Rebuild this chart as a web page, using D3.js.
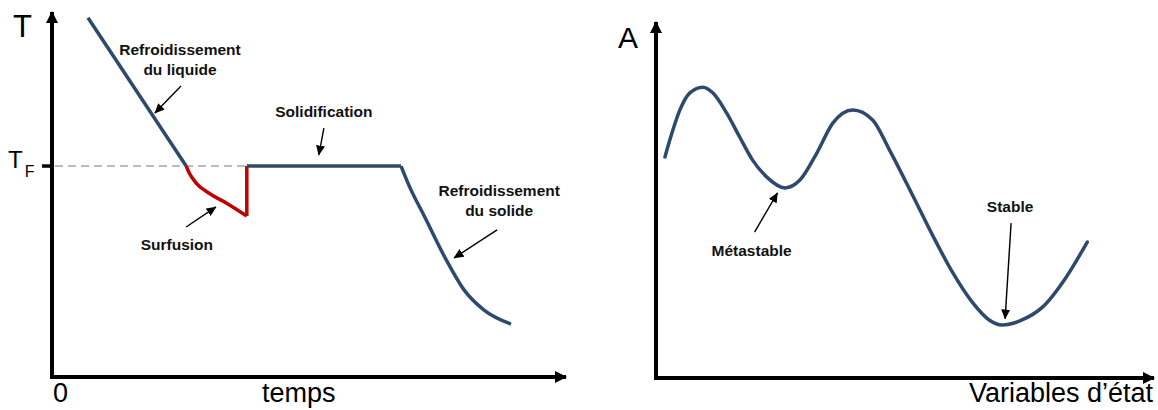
<!DOCTYPE html>
<html>
<head>
<meta charset="utf-8">
<script src="https://cdn.jsdelivr.net/npm/d3@7"></script>
<style>
  html, body { margin: 0; padding: 0; background: #fff; }
  svg { display: block; }
  text { font-family: "Liberation Sans", Arial, sans-serif; }
</style>
</head>
<body>
<svg id="chart" width="1158" height="410"></svg>
<script>
// ---------- DATA (left: cooling curve, time vs temperature) ----------
const TF = 57.8;
const liquidCooling = [[7.0, 98.4], [26.1, 57.8]];
const surfusion = [[26.1, 57.8], [26.7, 55.9], [28.0, 53.2], [30.5, 50.4], [33.9, 47.7], [37.9, 44.1]];
const recalescence = [[37.9, 44.1], [37.9, 57.8]];
const solidification = [[37.9, 57.8], [67.9, 57.8]];
const solidCooling = [[67.9, 57.8], [69.8, 51.4], [72.4, 44.2], [76.7, 32.1], [80.2, 23.8], [84.0, 18.4], [89.3, 14.5]];
const leftAnnotations = [
  { lines: ["Refroidissement", "du liquide"], tx: 24.9, ty: 88.1, from: [25.1, 79.7], to: [20.0, 72.3] },
  { lines: ["Solidification"], tx: 52.9, ty: 71.1, from: [52.9, 68.2], to: [51.9, 60.8] },
  { lines: ["Surfusion"], tx: 24.3, ty: 34.7, from: [26.1, 41.1], to: [31.9, 46.6] },
  { lines: ["Refroidissement", "du solide"], tx: 87.0, ty: 49.5, from: [86.6, 40.3], to: [78.2, 32.6] }
];
const leftLabels = { y: "T", yTick: "T", yTickSub: "F", origin: "0", x: "temps" };

// ---------- DATA (right: energy landscape) ----------
const landscape = [
  [1.8, 62.1], [3.2, 68.8], [4.8, 75.3], [6.8, 80.1], [9.4, 81.7], [11.4, 80.1],
  [14.2, 74.4], [16.8, 67.7], [19.4, 61.2], [22.2, 56.5], [25.9, 53.4], [28.9, 55.6],
  [32.3, 63.2], [35.5, 71.6], [39.5, 75.3], [43.5, 72.5], [46.9, 64.0],
  [51.5, 51.4], [55.5, 40.2], [59.5, 29.8], [63.5, 21.3], [66.9, 16.3], [69.5, 14.9],
  [73.5, 16.3], [77.6, 19.9], [82.4, 28.4], [86.6, 38.2]
];
const rightAnnotations = [
  { lines: ["Métastable"], tx: 19.2, ty: 34.4, from: [19.8, 41.0], to: [24.4, 52.0] },
  { lines: ["Stable"], tx: 71.1, ty: 46.5, from: [71.3, 43.5], to: [70.1, 16.6] }
];
const rightLabels = { y: "A", x: "Variables d’état" };

// ---------- STYLE ----------
const BLUE = "#2d4a6c", RED = "#c00000";
const svg = d3.select("#chart");
const defs = svg.append("defs");
defs.append("marker").attr("id", "axisHead").attr("viewBox", "0 0 12 12")
  .attr("refX", 11).attr("refY", 6).attr("markerWidth", 12).attr("markerHeight", 12)
  .attr("markerUnits", "userSpaceOnUse").attr("orient", "auto")
  .append("path").attr("d", "M0,0 L12,6 L0,12 Z").attr("fill", "#000");
defs.append("marker").attr("id", "annHead").attr("viewBox", "0 0 10 9")
  .attr("refX", 9.5).attr("refY", 4.5).attr("markerWidth", 10).attr("markerHeight", 9)
  .attr("markerUnits", "userSpaceOnUse").attr("orient", "auto")
  .append("path").attr("d", "M0,0 L10,4.5 L0,9 Z").attr("fill", "#000");

function drawAxes(g, x, y) {
  const [x0, x1] = x.range(), [y0, y1] = y.range();
  g.append("line").attr("x1", x0).attr("y1", y0 + 2).attr("x2", x0).attr("y2", y1)
    .attr("stroke", "#000").attr("stroke-width", 4).attr("marker-end", "url(#axisHead)");
  g.append("line").attr("x1", x0 - 2).attr("y1", y0).attr("x2", x1).attr("y2", y0)
    .attr("stroke", "#000").attr("stroke-width", 4).attr("marker-end", "url(#axisHead)");
}
function drawAnnotations(g, x, y, anns) {
  anns.forEach(a => {
    const t = g.append("text").attr("text-anchor", "middle").attr("font-weight", "bold")
      .attr("font-size", 15.5).attr("fill", "#111");
    a.lines.forEach((l, i) => {
      t.append("tspan").attr("x", x(a.tx)).attr("y", y(a.ty) + i * 20).text(l);
    });
    g.append("line").attr("x1", x(a.from[0])).attr("y1", y(a.from[1]))
      .attr("x2", x(a.to[0])).attr("y2", y(a.to[1]))
      .attr("stroke", "#000").attr("stroke-width", 1.4).attr("marker-end", "url(#annHead)");
  });
}

// ---------- LEFT CHART ----------
const xL = d3.scaleLinear().domain([0, 100]).range([52, 566]);
const yL = d3.scaleLinear().domain([0, 100]).range([377, 12]);
const gL = svg.append("g");

gL.append("line").attr("x1", xL(0) + 3).attr("x2", xL(recalescence[0][0]))
  .attr("y1", yL(TF)).attr("y2", yL(TF))
  .attr("stroke", "#a6a6a6").attr("stroke-width", 1.6).attr("stroke-dasharray", "8,5");
drawAxes(gL, xL, yL);
gL.append("line").attr("x1", xL(0) - 10).attr("x2", xL(0)).attr("y1", yL(TF)).attr("y2", yL(TF))
  .attr("stroke", "#000").attr("stroke-width", 3.5);

const lineL = d3.line().x(d => xL(d[0])).y(d => yL(d[1]));
const smoothL = d3.line().x(d => xL(d[0])).y(d => yL(d[1])).curve(d3.curveMonotoneX);
gL.append("path").attr("d", smoothL(surfusion)).attr("fill", "none").attr("stroke", RED).attr("stroke-width", 3.5);
gL.append("path").attr("d", lineL(recalescence)).attr("fill", "none").attr("stroke", RED).attr("stroke-width", 3.5);
gL.append("path").attr("d", lineL(liquidCooling)).attr("fill", "none").attr("stroke", BLUE).attr("stroke-width", 3.5);
gL.append("path").attr("d", lineL(solidification)).attr("fill", "none").attr("stroke", BLUE).attr("stroke-width", 3.5);
gL.append("path").attr("d", smoothL(solidCooling)).attr("fill", "none").attr("stroke", BLUE).attr("stroke-width", 3.5);

gL.append("text").attr("x", 13).attr("y", 37).attr("font-size", 31).text(leftLabels.y);
const tf = gL.append("text").attr("x", 8).attr("y", yL(TF) + 2).attr("font-size", 24);
tf.append("tspan").text(leftLabels.yTick);
tf.append("tspan").attr("font-size", 16).attr("dy", 9).attr("dx", 2).text(leftLabels.yTickSub);
gL.append("text").attr("x", xL(0) + 1).attr("y", 402).attr("font-size", 27).text(leftLabels.origin);
gL.append("text").attr("x", 262).attr("y", 402).attr("font-size", 27).text(leftLabels.x);
drawAnnotations(gL, xL, yL, leftAnnotations);

// ---------- RIGHT CHART ----------
const xR = d3.scaleLinear().domain([0, 100]).range([656, 1154]);
const yR = d3.scaleLinear().domain([0, 100]).range([378, 22]);
const gR = svg.append("g");
drawAxes(gR, xR, yR);
const smoothR = d3.line().x(d => xR(d[0])).y(d => yR(d[1])).curve(d3.curveMonotoneX);
gR.append("path").attr("d", smoothR(landscape)).attr("fill", "none").attr("stroke", BLUE)
  .attr("stroke-width", 3.5).attr("stroke-linecap", "round");
gR.append("text").attr("x", 618).attr("y", 48).attr("font-size", 30).text(rightLabels.y);
gR.append("text").attr("x", 1153).attr("y", 402).attr("text-anchor", "end").attr("font-size", 27).text(rightLabels.x);
drawAnnotations(gR, xR, yR, rightAnnotations);
</script>
</body>
</html>
